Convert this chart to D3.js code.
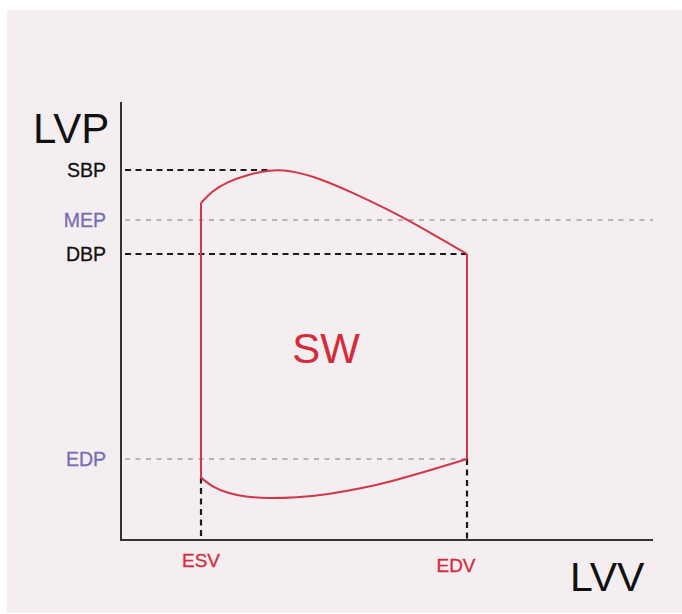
<!DOCTYPE html>
<html>
<head>
<meta charset="utf-8">
<script src="https://cdn.jsdelivr.net/npm/d3@7"></script>
<style>
  body { margin: 0; background: #fff; }
  text { font-family: "Liberation Sans", Arial, Helvetica, sans-serif; }
</style>
</head>
<body>
<div id="canvas"></div>
<script>
// reference pressures (LVP) and volumes (LVV), arbitrary units
const pressureNames = ["SBP", "MEP", "DBP", "EDP"];
const pressureValues = [92.5, 80, 71.5, 20.25];
const volumeNames = ["ESV", "EDV"];
const volumeValues = [15, 65];

// ejection phase: ESV (top of isovolumic contraction) -> EDV at DBP
const ejectionVol = [15, 17.1, 19.9, 23.7, 28.0, 31.8, 37.4, 43.6, 50.0, 54.9, 60.0, 65];
const ejectionP   = [84.25, 87.25, 89.5, 91.25, 92.6, 92.4, 90.4, 86.8, 82.75, 79.3, 75.4, 71.5];

// filling phase, listed from ESV up to EDV (end-diastole at EDP)
const fillingVol = [15, 17.05, 20.1, 23.3, 27.6, 32.7, 38.9, 45.3, 51.5, 57.7, 65];
const fillingP   = [15.6, 13.3, 11.7, 10.8, 10.4, 10.6, 11.4, 12.9, 14.9, 17.25, 20.25];

var width = 682, height = 614;

var svg = d3.select("#canvas")
  .append("svg")
  .attr("width", width)
  .attr("height", height);

// pinkish panel
svg.append("rect")
  .attr("x", 7).attr("y", 10)
  .attr("width", width - 7).attr("height", height - 11)
  .style("fill", "#f5eef0");

var x = d3.scaleLinear().domain([0, 100]).range([121, 653]).interpolate(d3.interpolateRound);
var y = d3.scaleLinear().domain([0, 110]).range([540, 100]);

var black = "#1a1a1a", purple = "#776db4", red = "#d42a3a", loopRed = "#d2364a", grey = "#a3a1b0";

// axes (plain lines, no ticks)
svg.append("line")
  .attr("x1", x(0)).attr("x2", x(0))
  .attr("y1", y(0) + 1).attr("y2", 102)
  .style("stroke", "#333").style("stroke-width", 2);
svg.append("line")
  .attr("x1", x(0) - 1).attr("x2", x(100))
  .attr("y1", y(0)).attr("y2", y(0))
  .style("stroke", "#333").style("stroke-width", 2);

// horizontal reference lines
var peakVol = ejectionVol[ejectionP.indexOf(d3.max(ejectionP))];
var hEnds = { SBP: peakVol, MEP: 100, DBP: volumeValues[1], EDP: volumeValues[1] };
var isMean = function(n) { return n === "MEP" || n === "EDP"; };

svg.append("g").selectAll("line")
  .data(pressureNames)
  .enter().append("line")
  .attr("x1", x(0) + 4)
  .attr("x2", function(d) { return x(hEnds[d]); })
  .attr("y1", function(d, i) { return y(pressureValues[i]); })
  .attr("y2", function(d, i) { return y(pressureValues[i]); })
  .style("stroke", function(d) { return isMean(d) ? grey : black; })
  .style("stroke-width", function(d) { return isMean(d) ? 1.7 : 2; })
  .style("stroke-dasharray", function(d) { return isMean(d) ? "5,5.5" : "6,4.5"; });

// vertical reference lines from loop corners down to the x axis
var vStarts = [fillingP[0], fillingP[fillingP.length - 1]];
svg.append("g").selectAll("line")
  .data(volumeNames)
  .enter().append("line")
  .attr("x1", function(d, i) { return x(volumeValues[i]); })
  .attr("x2", function(d, i) { return x(volumeValues[i]); })
  .attr("y1", function(d, i) { return y(vStarts[i]); })
  .attr("y2", y(0))
  .style("stroke", black)
  .style("stroke-width", 2.2)
  .style("stroke-dasharray", "6,4.5");

// pressure-volume loop
var curve = d3.line()
  .x(function(d) { return x(d[0]); })
  .y(function(d) { return y(d[1]); })
  .curve(d3.curveBasis);

var ejection = ejectionVol.map(function(v, i) { return [v, ejectionP[i]]; });
var filling = fillingVol.map(function(v, i) { return [v, fillingP[i]]; });

var loop = svg.append("g")
  .style("fill", "none")
  .style("stroke", loopRed)
  .style("stroke-width", 2)
  .style("stroke-linejoin", "round");

loop.append("path").attr("d", curve(ejection));
loop.append("path").attr("d", curve(filling));
// isovolumic contraction and relaxation
loop.append("path").attr("d", d3.line()([
  [x(volumeValues[0]), y(fillingP[0])],
  [x(volumeValues[0]), y(ejectionP[0])]]));
loop.append("path").attr("d", d3.line()([
  [x(volumeValues[1]), y(ejectionP[ejectionP.length - 1])],
  [x(volumeValues[1]), y(fillingP[fillingP.length - 1])]]));

// pressure labels
svg.append("g").selectAll("text")
  .data(pressureNames)
  .enter().append("text")
  .attr("x", 106)
  .attr("y", function(d, i) { return y(pressureValues[i]); })
  .attr("dy", "0.36em")
  .attr("text-anchor", "end")
  .style("font-size", "19.5px")
  .style("fill", function(d) { return isMean(d) ? purple : "#111"; })
  .style("stroke", function(d) { return isMean(d) ? purple : "#111"; })
  .style("stroke-width", 0.3)
  .text(function(d) { return d; });

// volume labels
var volDx = [0, -11], volY = [567, 572];
svg.append("g").selectAll("text")
  .data(volumeNames)
  .enter().append("text")
  .attr("x", function(d, i) { return x(volumeValues[i]) + volDx[i]; })
  .attr("y", function(d, i) { return volY[i]; })
  .attr("text-anchor", "middle")
  .style("font-size", "19px")
  .style("fill", red)
  .style("stroke", red)
  .style("stroke-width", 0.3)
  .text(function(d) { return d; });

// axis titles
svg.append("text")
  .attr("x", 33).attr("y", 143)
  .style("font-size", "42px").style("fill", "#111")
  .text("LVP");
svg.append("text")
  .attr("x", 570).attr("y", 591)
  .style("font-size", "41px").style("fill", "#111")
  .text("LVV");

// stroke work label
svg.append("text")
  .attr("x", x((volumeValues[0] + volumeValues[1]) / 2) - 8)
  .attr("y", 363)
  .attr("text-anchor", "middle")
  .style("font-size", "42px").style("fill", red)
  .text("SW");
</script>
</body>
</html>
